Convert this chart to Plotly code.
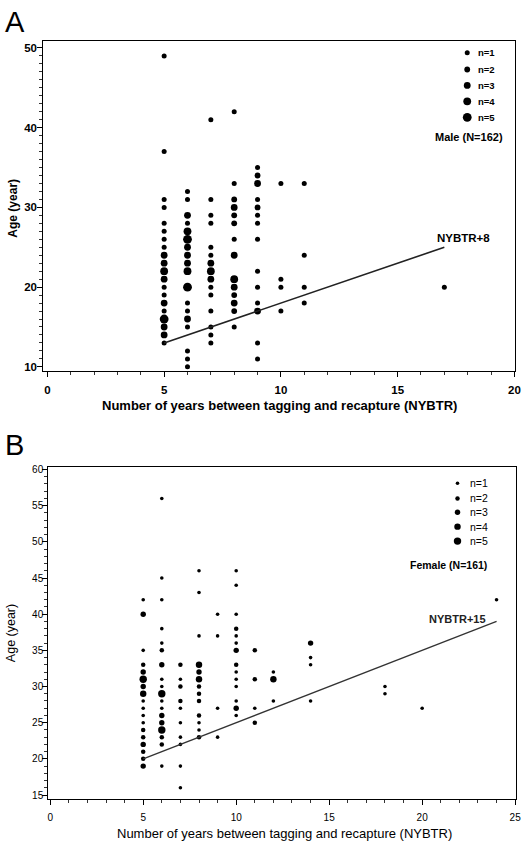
import plotly.graph_objects as go

# ---------------- DATA ----------------
# Panel A (Male): x = NYBTR, y = age, n = number of fish at that point
male_x = ([5] * 20 + [6] * 18 + [7] * 15 + [8] * 14 + [9] * 14 + [10] * 4 + [11] * 4 + [17])
male_age = [13, 14, 15, 16, 17, 18, 19, 20, 21, 22, 23, 24, 25, 26, 27, 28, 30, 31, 37, 49,
            10, 11, 12, 15, 16, 17, 18, 20, 22, 23, 24, 25, 26, 27, 28, 29, 31, 32,
            13, 14, 15, 17, 19, 20, 21, 22, 23, 24, 25, 28, 29, 31, 41,
            15, 17, 18, 19, 20, 21, 24, 26, 28, 29, 30, 31, 33, 42,
            11, 13, 17, 18, 20, 22, 26, 28, 29, 30, 31, 33, 34, 35,
            17, 20, 21, 33,
            18, 20, 24, 33,
            20]
male_n = [1, 3, 3, 5, 1, 3, 1, 1, 3, 4, 3, 3, 1, 1, 1, 1, 1, 1, 1, 1,
          1, 1, 1, 1, 3, 1, 1, 5, 4, 3, 3, 3, 5, 4, 1, 3, 1, 1,
          1, 1, 1, 1, 1, 1, 3, 4, 3, 1, 1, 1, 1, 1, 1,
          1, 2, 3, 2, 3, 4, 3, 1, 2, 2, 3, 2, 1, 1,
          1, 1, 3, 1, 1, 1, 1, 1, 1, 2, 1, 3, 2, 1,
          1, 1, 1, 1,
          1, 1, 1, 1,
          1]
male_line_x = [5, 17]
male_offset = 8

# Panel B (Female)
female_x = ([5] * 18 + [6] * 18 + [7] * 10 + [8] * 13 + [9] * 4 + [10] * 14 + [11] * 4
            + [12] * 3 + [14] * 4 + [18] * 2 + [20] + [24])
female_age = [19, 20, 21, 22, 23, 24, 25, 26, 27, 28, 29, 30, 31, 32, 33, 35, 40, 42,
              19, 22, 23, 24, 25, 26, 27, 28, 29, 30, 31, 33, 35, 36, 38, 42, 45, 56,
              16, 19, 22, 23, 25, 27, 28, 30, 31, 33,
              23, 24, 25, 26, 28, 29, 30, 31, 32, 33, 37, 43, 46,
              23, 27, 37, 40,
              26, 27, 28, 30, 31, 32, 33, 35, 36, 37, 38, 40, 44, 46,
              25, 27, 31, 35,
              28, 31, 32,
              28, 33, 34, 36,
              29, 30,
              27,
              42]
female_n = [3, 2, 2, 3, 2, 2, 1, 1, 1, 1, 4, 3, 5, 3, 2, 1, 3, 1,
            1, 2, 2, 5, 3, 3, 1, 1, 5, 1, 1, 3, 2, 1, 1, 1, 1, 1,
            1, 1, 1, 1, 1, 1, 2, 2, 1, 2,
            2, 1, 1, 2, 2, 2, 2, 4, 3, 4, 1, 1, 1,
            1, 1, 1, 1,
            1, 3, 1, 1, 1, 1, 2, 3, 1, 1, 2, 1, 1, 1,
            2, 1, 2, 2,
            1, 4, 1,
            1, 1, 1, 3,
            1, 1,
            1,
            1]
female_line_x = [5, 24]
female_offset = 15

legend_n = [1, 2, 3, 4, 5]
legend_labels = ["n=1", "n=2", "n=3", "n=4", "n=5"]

# ---------------- STYLE ----------------
size_a = {1: 5.0, 2: 5.8, 3: 6.8, 4: 7.8, 5: 8.8}
size_b = {1: 3.6, 2: 4.5, 3: 5.4, 4: 6.4, 5: 7.4}
FONT = "Liberation Sans"

fig = go.Figure()

# Panel A points
fig.add_trace(go.Scatter(x=male_x, y=male_age, mode="markers",
                         marker=dict(color="black", opacity=1, size=[size_a[n] for n in male_n],
                                     line=dict(width=0)),
                         xaxis="x", yaxis="y", showlegend=False, hoverinfo="x+y"))
fig.add_trace(go.Scatter(x=male_line_x, y=[v + male_offset for v in male_line_x], mode="lines",
                         line=dict(color="#222", width=1.6), xaxis="x", yaxis="y", showlegend=False))
# Panel A size legend
leg_a_y = [49.4, 47.3, 45.3, 43.3, 41.3]
fig.add_trace(go.Scatter(x=[17.98] * 5, y=leg_a_y, mode="markers",
                         marker=dict(color="black", opacity=1, size=[size_a[n] for n in legend_n],
                                     line=dict(width=0)),
                         xaxis="x", yaxis="y", showlegend=False, hoverinfo="skip"))

# Panel B points
fig.add_trace(go.Scatter(x=female_x, y=female_age, mode="markers",
                         marker=dict(color="black", opacity=1, size=[size_b[n] for n in female_n],
                                     line=dict(width=0)),
                         xaxis="x2", yaxis="y2", showlegend=False, hoverinfo="x+y"))
fig.add_trace(go.Scatter(x=female_line_x, y=[v + female_offset for v in female_line_x], mode="lines",
                         line=dict(color="#333", width=1.3), xaxis="x2", yaxis="y2", showlegend=False))
leg_b_y = [58.1, 56.0, 54.1, 52.1, 50.1]
fig.add_trace(go.Scatter(x=[21.9] * 5, y=leg_b_y, mode="markers",
                         marker=dict(color="black", opacity=1, size=[size_b[n] for n in legend_n],
                                     line=dict(width=0)),
                         xaxis="x2", yaxis="y2", showlegend=False, hoverinfo="skip"))

H = 854.0
W = 528.0


def ax_common(bold, size):
    return dict(showline=True, mirror=True, linecolor="black", linewidth=1.3,
                ticks="outside", ticklen=5, tickwidth=1.2, tickcolor="black",
                showgrid=False, zeroline=False, ticklabeloverflow="allow",
                tickmode="linear", tick0=0,
                tickfont=dict(family=FONT, size=size, color="black",
                              weight="bold" if bold else "normal"),
                minor=dict(ticks="outside", ticklen=3, tickwidth=1, tickcolor="#333",
                           tickmode="linear", tick0=0, dtick=1, showgrid=False))


xa = ax_common(True, 11.5)
xa.update(domain=[43 / W, 521 / W], range=[-0.17, 20.03], dtick=5, anchor="y", ticklabelstandoff=3)
ya = ax_common(True, 11.5)
ya.update(domain=[(H - 370) / H, (H - 38) / H], range=[9.5, 50.9], dtick=10, anchor="x",
          ticklabelstandoff=-2)
xb = ax_common(False, 10)
xb.update(domain=[48 / W, 522 / W], range=[-0.1, 25.05], dtick=5, anchor="y2", ticklabelstandoff=4)
yb = ax_common(False, 10)
yb.update(domain=[(H - 800.7) / H, (H - 466.7) / H], range=[14.45, 60.35], dtick=5, anchor="x2",
          ticklabelstandoff=-3)

annotations = []
# panel letters
annotations.append(dict(text="A", x=2 / W, y=(H - 19) / H, xref="paper", yref="paper", xanchor="left",
                        yanchor="middle", showarrow=False, font=dict(family=FONT, size=29, color="black")))
annotations.append(dict(text="B", x=2 / W, y=(H - 445) / H, xref="paper", yref="paper", xanchor="left",
                        yanchor="middle", showarrow=False, font=dict(family=FONT, size=29, color="black")))
# axis titles
annotations.append(dict(text="<b>Number of years between tagging and recapture (NYBTR)</b>", x=282 / W,
                        y=(H - 405) / H, xref="paper", yref="paper", xanchor="center", yanchor="middle",
                        showarrow=False, font=dict(family=FONT, size=13, color="black")))
annotations.append(dict(text="<b>Age (year)</b>", x=12 / W, y=(H - 206) / H, xref="paper", yref="paper",
                        xanchor="center", yanchor="middle", textangle=-90, showarrow=False,
                        font=dict(family=FONT, size=12, color="black")))
annotations.append(dict(text="Number of years between tagging and recapture (NYBTR)", x=287 / W,
                        y=(H - 835) / H, xref="paper", yref="paper", xanchor="center", yanchor="middle",
                        showarrow=False, font=dict(family=FONT, size=13, color="black")))
annotations.append(dict(text="Age (year)", x=10 / W, y=(H - 634) / H, xref="paper", yref="paper",
                        xanchor="center", yanchor="middle", textangle=-90, showarrow=False,
                        font=dict(family=FONT, size=12.5, color="black")))
# size legend labels
for lab, yv in zip(legend_labels, leg_a_y):
    annotations.append(dict(text="<b>" + lab + "</b>", x=18.35, y=yv, xref="x", yref="y", xanchor="left",
                            yanchor="middle", showarrow=False, font=dict(family=FONT, size=9.5, color="black")))
for lab, yv in zip(legend_labels, leg_b_y):
    annotations.append(dict(text=lab, x=22.45, y=yv, xref="x2", yref="y2", xanchor="left",
                            yanchor="middle", showarrow=False, font=dict(family=FONT, size=10.5, color="black")))
annotations.append(dict(text="<b>Male (N=162)</b>", x=18.05, y=38.8, xref="x", yref="y", xanchor="center",
                        yanchor="middle", showarrow=False, font=dict(family=FONT, size=11, color="black")))
annotations.append(dict(text="<b>Female (N=161)</b>", x=21.4, y=46.85, xref="x2", yref="y2", xanchor="center",
                        yanchor="middle", showarrow=False, font=dict(family=FONT, size=10.5, color="black")))
annotations.append(dict(text="<b>NYBTR+8</b>", x=17.8, y=26.1, xref="x", yref="y", xanchor="center",
                        yanchor="middle", showarrow=False, font=dict(family=FONT, size=11.5, color="black")))
annotations.append(dict(text="<b>NYBTR+15</b>", x=21.9, y=39.4, xref="x2", yref="y2", xanchor="center",
                        yanchor="middle", showarrow=False, font=dict(family=FONT, size=11, color="#222")))

fig.update_layout(width=528, height=854, margin=dict(l=0, r=0, t=0, b=0, pad=0),
                  paper_bgcolor="white", plot_bgcolor="white",
                  xaxis=xa, yaxis=ya, xaxis2=xb, yaxis2=yb, annotations=annotations,
                  font=dict(family=FONT, color="black"))

# remove the browser's default 8px body margin so the figure sits at the page origin
fig.write_html("out.html", config={"displayModeBar": False},
               post_script="document.body.style.margin='0';document.body.style.overflow='hidden';")
